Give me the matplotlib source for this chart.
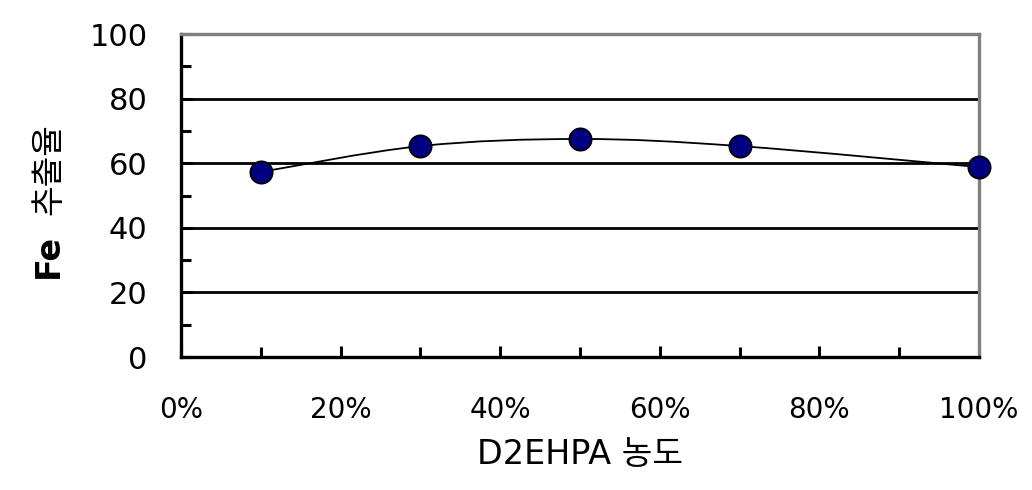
import matplotlib
matplotlib.use("Agg")
import matplotlib.pyplot as plt
from matplotlib.path import Path
from matplotlib.patches import PathPatch

plt.rcParams['font.family'] = ['DejaVu Sans', 'Noto Sans CJK KR']

# data
conc = [10, 30, 50, 70, 100]          # D2EHPA 농도 (%)
fe_ext = [57.3, 65.3, 67.5, 65.3, 58.8]  # Fe 추출율
xticks = [0, 20, 40, 60, 80, 100]
xticklabels = ['0%', '20%', '40%', '60%', '80%', '100%']
yticks = [0, 20, 40, 60, 80, 100]


def smooth_path(xs, ys):
    # excel-like smoothed line: catmull-rom segments as cubic beziers
    pts = list(zip(xs, ys))
    verts = [pts[0]]
    codes = [Path.MOVETO]
    n = len(pts)
    for i in range(n - 1):
        p0 = pts[i - 1] if i > 0 else pts[i]
        p1 = pts[i]
        p2 = pts[i + 1]
        p3 = pts[i + 2] if i + 2 < n else pts[i + 1]
        c1 = (p1[0] + (p2[0] - p0[0]) / 6, p1[1] + (p2[1] - p0[1]) / 6)
        c2 = (p2[0] - (p3[0] - p1[0]) / 6, p2[1] - (p3[1] - p1[1]) / 6)
        verts += [c1, c2, p2]
        codes += [Path.CURVE4] * 3
    return Path(verts, codes)


fig = plt.figure(figsize=(10.32, 4.9), dpi=100)
ax = fig.add_axes([0.1754, 0.2714, 0.7732, 0.6592])

for y in [20, 40, 60, 80]:
    ax.axhline(y, color='black', lw=2.0, zorder=1)

ax.add_patch(PathPatch(smooth_path(conc, fe_ext), facecolor='none',
                       edgecolor='black', lw=1.3, zorder=3))
ax.plot(conc, fe_ext, 'o', ms=16, mfc='#000080', mec='black', mew=1.3,
        zorder=4, clip_on=False)

ax.set_xlim(0, 100)
ax.set_ylim(0, 100)
ax.set_xticks(xticks)
ax.set_xticklabels(xticklabels)
ax.set_xticks(range(10, 100, 20), minor=True)
ax.set_yticks(yticks)
ax.set_yticks(range(10, 100, 20), minor=True)

ax.tick_params(axis='both', which='both', direction='in', width=2.2, color='black')
ax.tick_params(axis='both', which='major', length=8)
ax.tick_params(axis='both', which='minor', length=7)
ax.tick_params(axis='y', which='major', labelsize=22, pad=24)
ax.tick_params(axis='x', which='major', labelsize=20, pad=28)

for s in ['left', 'bottom']:
    ax.spines[s].set_color('black')
    ax.spines[s].set_linewidth(2.4)
for s in ['top', 'right']:
    ax.spines[s].set_color('#808080')
    ax.spines[s].set_linewidth(2.4)

ax.set_xlabel('D2EHPA 농도', fontsize=24, labelpad=10)

# y label: "Fe" bold, korean part regular
fig.text(0.047, 0.478, 'Fe', rotation=90, fontsize=24, fontweight='bold',
         ha='center', va='center')
fig.text(0.047, 0.655, '추출율', rotation=90, fontsize=24,
         ha='center', va='center')

fig.savefig('out.png', dpi=100)
